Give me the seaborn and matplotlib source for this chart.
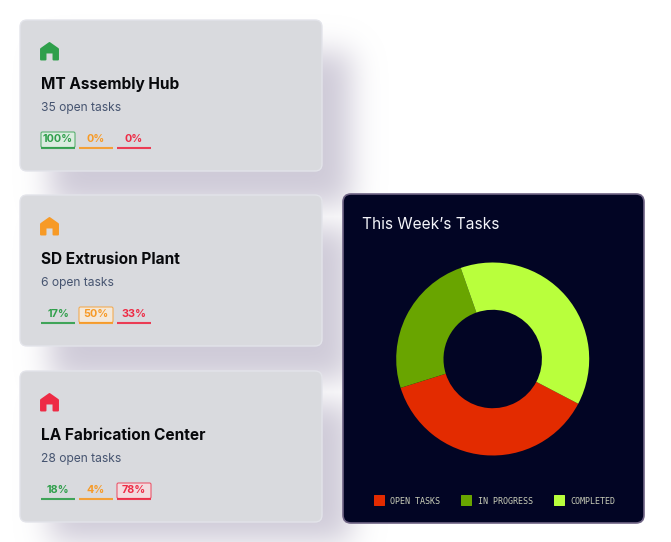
import numpy as np
import seaborn as sns
import matplotlib.pyplot as plt
from matplotlib.colors import to_rgb
from matplotlib.patches import FancyBboxPatch, Polygon

sites = ["MT Assembly Hub", "SD Extrusion Plant", "LA Fabrication Center"]
open_tasks = [35, 6, 28]
pct_done = [100, 17, 18]
pct_progress = [0, 50, 4]
pct_open = [0, 33, 78]
highlight = [0, 1, 2]

task_labels = ["OPEN TASKS", "IN PROGRESS", "COMPLETED"]
task_counts = [69, 45, 70]
task_colors = ["#e32b00", "#69a500", "#b9ff3c"]

GREEN = "#2f9f4b"
ORANGE = "#f79a26"
RED = "#ee2b45"
TINTS = ["#dcf3e2", "#fdeed9", "#fbdde0"]
CARD_Y = [20, 195, 371]

sns.set_theme(style="white")
plt.rcParams["font.family"] = ["Inter", "DejaVu Sans"]

fig = plt.figure(figsize=(6.71, 5.42), dpi=100)
ax = fig.add_axes([0, 0, 1, 1])
ax.axis("off")


def round_box(x, y, w, h, r, fc, ec="none", lw=0, alpha=1, z=2):
    box = FancyBboxPatch((x + r, y + r), w - 2 * r, h - 2 * r,
                         boxstyle=f"round,pad={r},rounding_size={r}",
                         fc=fc, ec=ec, lw=lw, alpha=alpha, zorder=z)
    ax.add_patch(box)


def draw_home(x, y, color):
    pts = [(x + 1, y + 7), (x + 9.5, y + 1), (x + 18, y + 7), (x + 18, y + 17.5), (x + 13.5, y + 17.5),
           (x + 13.5, y + 10.5), (x + 5.5, y + 10.5), (x + 5.5, y + 17.5), (x + 1, y + 17.5)]
    ax.add_patch(Polygon(pts, closed=True, fc=color, ec=color, lw=1.4, joinstyle="round", zorder=4))


def shadow_layer(sigma=15):
    # blurred rectangles offset from each card, same look as a css box-shadow
    mask = np.zeros((542, 671))
    xs = np.arange(671)
    ys = np.arange(542)
    radius = int(sigma * 3)
    kernel = np.exp(-0.5 * (np.arange(-radius, radius + 1) / sigma) ** 2)
    kernel = kernel / kernel.sum()
    for cy in CARD_Y:
        px = np.convolve(((xs >= 50) & (xs <= 350)).astype(float), kernel, mode="same")
        py = np.convolve(((ys >= cy + 32) & (ys <= cy + 185)).astype(float), kernel, mode="same")
        mask = np.maximum(mask, np.outer(py, px))
    rgba = np.zeros((542, 671, 4))
    rgba[..., :3] = to_rgb("#c6c1d1")
    rgba[..., 3] = mask * 0.85
    return rgba


ax.imshow(shadow_layer(), extent=(0, 671, 542, 0), aspect="auto", zorder=1, interpolation="bilinear")
ax.set_xlim(0, 671)
ax.set_ylim(542, 0)

for i, name in enumerate(sites):
    y0 = CARD_Y[i]
    round_box(20, y0, 302, 151, 7, "#d9dade", ec="#e3e4ea", lw=1, z=2)
    draw_home(40, y0 + 22, [GREEN, ORANGE, RED][i])
    ax.text(41, y0 + 64.5, name, fontsize=11.1, fontweight="bold", color="#08090c",
            va="center", ha="left", zorder=4)
    ax.text(41, y0 + 88, f"{open_tasks[i]} open tasks", fontsize=8.7, color="#465470",
            va="center", ha="left", zorder=4)
    values = [pct_done[i], pct_progress[i], pct_open[i]]
    colors = [GREEN, ORANGE, RED]
    for j, val in enumerate(values):
        bx = 41 + j * 38
        by = y0 + 112
        if highlight[i] == j:
            round_box(bx, by, 34, 15.5, 1.5, TINTS[j], ec=colors[j], lw=0.8, alpha=0.75, z=3)
        ax.plot([bx, bx + 34], [by + 15.5, by + 15.5], color=colors[j], lw=1.5, zorder=3,
                solid_capstyle="butt", alpha=0.9)
        ax.text(bx + 17, by + 7, f"{val}%", fontsize=7.8, fontweight="bold", color=colors[j],
                ha="center", va="center", zorder=4)

# dark panel with the donut
round_box(343, 194, 301, 329, 8, "#020524", ec="#6f6485", lw=1.2, z=2)
ax.text(362, 224.5, "This Week\u2019s Tasks", fontsize=11.15, color="#f4f5fa",
        va="center", ha="left", zorder=4)

pie_ax = fig.add_axes([(492.7 - 96.5) / 671, 1 - (359 + 96.5) / 542, 193 / 671, 193 / 542])
pie_ax.pie(task_counts, colors=sns.color_palette(task_colors), startangle=-27.6, counterclock=False,
           radius=1.0, wedgeprops={"width": 0.49, "linewidth": 0})
pie_ax.set_xlim(-1, 1)
pie_ax.set_ylim(-1, 1)

for x_sw, x_txt, label, color in zip([374, 461, 554], [390, 478, 570], task_labels, task_colors):
    round_box(x_sw, 495, 11, 11, 0.5, color, z=4)
    ax.text(x_txt, 501, label, fontsize=6, color="#c9cdb8", family=["DejaVu Sans Mono"],
            va="center", ha="left", zorder=4)

fig.savefig("out.png", dpi=100, facecolor="white")
